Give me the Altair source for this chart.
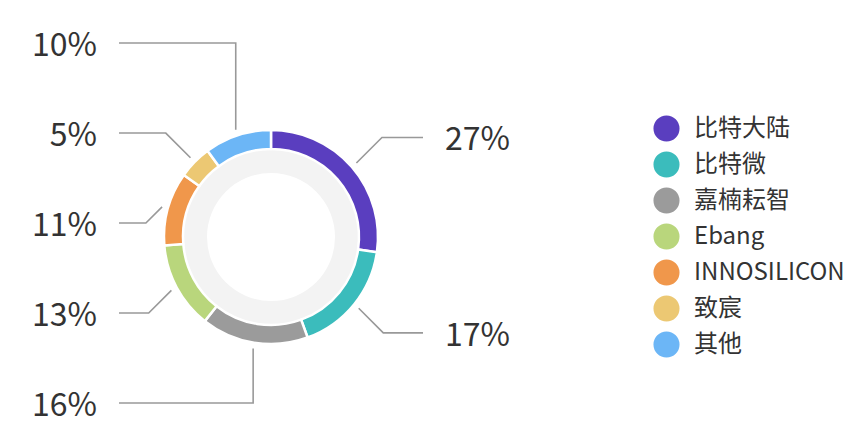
import math
import altair as alt
import pandas as pd

# ---- data ----
companies = ["比特大陆", "比特微", "嘉楠耘智", "Ebang", "INNOSILICON", "致宸", "其他"]
shares = [27, 17, 16, 13, 11, 5, 10]
colors = ["#5a3ebf", "#3bbcbc", "#9b9b9b", "#b9d67c", "#f0974b", "#ecc873", "#6cb6f6"]

# ---- layout / style ----
W, H = 849, 428
CX, CY = 263, 229
R_OUT, R_IN, R_BAND = 107, 88, 64
R_START, R_ELBOW = 113, 152
GAP = 90
FONT = "Noto Sans CJK SC"

total = sum(shares)
mids, cum = [], 0
for s in shares:
    mids.append((cum + s / 2) / total * 2 * math.pi)
    cum += s


def spread(ys, gap):
    z = [y - gap * i for i, y in enumerate(ys)]
    blocks = []
    for v in z:
        blocks.append([v, 1])
        while len(blocks) > 1 and blocks[-2][0] / blocks[-2][1] > blocks[-1][0] / blocks[-1][1]:
            s, c = blocks.pop()
            blocks[-1][0] += s
            blocks[-1][1] += c
    out = []
    for s, c in blocks:
        out += [s / c] * c
    return [v + gap * i for i, v in enumerate(out)]


starts = [(CX + R_START * math.sin(a), CY - R_START * math.cos(a)) for a in mids]
natural = [CY - R_ELBOW * math.cos(a) for a in mids]
sides = ["R" if math.sin(a) >= 0 else "L" for a in mids]
label_y = [0.0] * len(shares)
for sd in ("L", "R"):
    idx = sorted([i for i in range(len(shares)) if sides[i] == sd], key=lambda i: natural[i])
    ys = spread([natural[i] for i in idx], GAP)
    for i, y in zip(idx, ys):
        label_y[i] = y

line_rows, text_rows = [], []
for i, (s, (sx, sy)) in enumerate(zip(shares, starts)):
    ly = label_y[i]
    sgn = 1 if sides[i] == "R" else -1
    dy = abs(ly - sy)
    ex = sx + sgn * dy if dy <= 40 else sx
    endx = CX + sgn * R_ELBOW
    for k, (px, py) in enumerate([(sx, sy), (ex, ly), (endx, ly)]):
        line_rows.append({"key": companies[i], "k": k, "x": px, "y": py})
    text_rows.append({"x": endx + sgn * 22, "y": ly, "t": f"{s}%", "side": sides[i]})

arc_df = pd.DataFrame({"company": companies, "share": shares, "idx": list(range(len(shares)))})
lines_df = pd.DataFrame(line_rows)
text_df = pd.DataFrame(text_rows)

xs = alt.Scale(domain=[0, W], nice=False, zero=False)
ys_ = alt.Scale(domain=[0, H], nice=False, zero=False, reverse=True)

band = alt.Chart(pd.DataFrame({"v": [1]})).mark_arc(
    innerRadius=R_BAND, outerRadius=R_IN, color="#f3f3f3"
).encode(theta=alt.Theta("v:Q", scale=alt.Scale(domain=[0, 1])), x=alt.value(CX), y=alt.value(CY))

ring = alt.Chart(arc_df).mark_arc(
    innerRadius=R_IN, outerRadius=R_OUT, stroke="white", strokeWidth=2.5
).encode(
    theta=alt.Theta("share:Q", stack=True),
    order=alt.Order("idx:Q"),
    color=alt.Color(
        "company:N",
        scale=alt.Scale(domain=companies, range=colors),
        legend=alt.Legend(
            title=None, orient="none", legendX=645, legendY=107,
            symbolType="circle", symbolSize=680, symbolStrokeWidth=0,
            labelFont=FONT, labelFontSize=24, labelColor="#333333",
            labelOffset=14, rowPadding=9, padding=0,
        ),
    ),
    x=alt.value(CX), y=alt.value(CY),
)

leaders = alt.Chart(lines_df).mark_line(color="#999999", strokeWidth=1.6).encode(
    x=alt.X("x:Q", scale=xs, axis=None),
    y=alt.Y("y:Q", scale=ys_, axis=None),
    detail="key:N",
    order="k:Q",
)

left_txt = alt.Chart(text_df[text_df.side == "L"]).mark_text(
    align="right", baseline="middle", dy=3, font=FONT, fontSize=32, color="#333333"
).encode(x=alt.X("x:Q", scale=xs, axis=None), y=alt.Y("y:Q", scale=ys_, axis=None), text="t:N")

right_txt = alt.Chart(text_df[text_df.side == "R"]).mark_text(
    align="left", baseline="middle", dy=3, font=FONT, fontSize=32, color="#333333"
).encode(x=alt.X("x:Q", scale=xs, axis=None), y=alt.Y("y:Q", scale=ys_, axis=None), text="t:N")

chart = alt.layer(band, ring, leaders, left_txt, right_txt).resolve_scale(
    theta="independent"
).properties(
    width=W, height=H, padding=0, autosize=alt.AutoSizeParams(type="none"), background="white"
).configure_view(stroke=None)

chart.save("out.html", embed_options={"renderer": "svg", "actions": False})
